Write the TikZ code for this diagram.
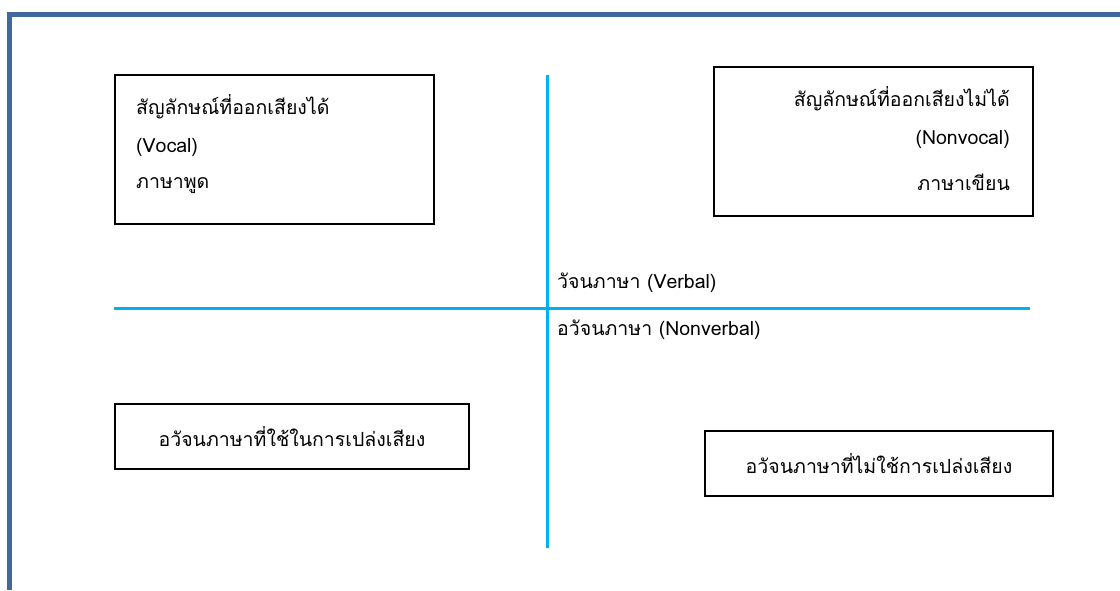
\documentclass[tikz,border=0pt]{standalone}
\usepackage{fontspec}
\newfontfamily\thaifont[Script=Thai]{Loma}
\definecolor{framec}{HTML}{41689A}
\definecolor{axisc}{HTML}{00B0F0}
\tikzset{
  box/.style={draw=black, line width=2pt, fill=white},
  txt/.style={font=\thaifont\fontsize{19.5}{22}\selectfont, inner sep=0pt},
  axis/.style={draw=axisc, line width=3pt},
  frame/.style={draw=framec, line width=5pt}
}
\begin{document}
\begin{tikzpicture}[x=1pt,y=-1pt]
\useasboundingbox (0,0) rectangle (1120,590);
\draw[frame] (9.5,590) -- (9.5,14) -- (1120,14);
% axes
\coordinate (vtop) at (547,75);
\coordinate (vbot) at (547,548);
\coordinate (hl) at (114,308);
\coordinate (hr) at (1030,308);
\draw[axis] (vtop) -- (vbot);
\draw[axis] (hl) -- (hr);
% boxes
\node[box, minimum width=319pt, minimum height=149pt, anchor=north west] (b1) at (114,74) {};
\node[box, minimum width=319pt, minimum height=149pt, anchor=north west] (b2) at (713,66) {};
\node[box, minimum width=354pt, minimum height=65pt, anchor=north west] (b3) at (114,403) {};
\node[box, minimum width=348pt, minimum height=65pt, anchor=north west] (b4) at (704,430) {};
% texts box1
\node[txt, anchor=west] (t11) at (136,107) {สัญลักษณ์ที่ออกเสียงได้};
\node[txt, anchor=west] (t12) at (136,147) {(Vocal)};
\node[txt, anchor=west] (t13) at (136,186) {ภาษาพูด};
% texts box2
\node[txt, anchor=east] (t21) at (1010,99) {สัญลักษณ์ที่ออกเสียงไม่ได้};
\node[txt, anchor=east] (t22) at (1010,139) {(Nonvocal)};
\node[txt, anchor=east] (t23) at (1010,182) {ภาษาเขียน};
% axis labels
\node[txt, anchor=west] (lv) at (557,283) {วัจนภาษา (Verbal)};
\node[txt, anchor=west] (lnv) at (557,330) {อวัจนภาษา (Nonverbal)};
% bottom boxes
\node[txt] (t3) at (b3.center) {อวัจนภาษาที่ใช้ในการเปล่งเสียง};
\node[txt] (t4) at (b4.center) {อวัจนภาษาที่ไม่ใช้การเปล่งเสียง};
\end{tikzpicture}
\end{document}
